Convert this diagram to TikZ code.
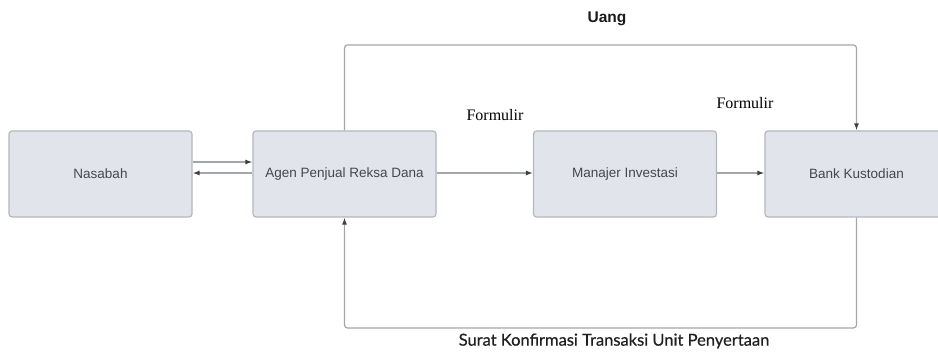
\documentclass[tikz,border=0pt]{standalone}
\usepackage{fontspec}
\setmainfont{Liberation Sans}
\newfontfamily\formfont{Liberation Serif}
\newfontfamily\notefont{Lato}[FakeBold=0.5]
\usepackage{tikz}
\usetikzlibrary{arrows.meta}

\definecolor{boxfill}{HTML}{E1E4EA}
\definecolor{boxline}{HTML}{B4B7BC}
\definecolor{wire}{HTML}{A3A6AA}
\definecolor{boxtext}{HTML}{45474B}

\tikzset{
    party/.style={draw=boxline, fill=boxfill, line width=1.2pt, rounded corners=3pt,
        minimum width=183pt, minimum height=86pt, text=boxtext,
        font=\fontsize{13.5}{16}\selectfont},
    flow/.style={draw=wire, line width=1.2pt, rounded corners=3pt,
        -{Latex[length=7pt, width=5pt, color=black!75]}},
    formlabel/.style={font=\formfont\fontsize{16}{18}\selectfont},
}

\begin{document}
\begin{tikzpicture}[x=1pt, y=-1pt]
    \useasboundingbox (0,0) rectangle (938,352);

    % Parties
    \node[party] (nasabah) at (100.5,174) {Nasabah};
    \node[party] (agen) at (344.5,174) {Agen Penjual Reksa Dana};
    \node[party] (manajer) at (625,174) {Manajer Investasi};
    \node[party] (bank) at (856.5,174) {Bank Kustodian};

    % Formulir flow
    \draw[flow] ([yshift=12pt]nasabah.east) -- ([yshift=12pt]agen.west);
    \draw[flow] ([yshift=1pt]agen.west) -- ([yshift=1pt]nasabah.east);
    \draw[flow] ([yshift=1pt]agen.east) -- ([yshift=1pt]manajer.west);
    \draw[flow] ([yshift=1pt]manajer.east) -- ([yshift=1pt]bank.west);
    \node[formlabel] (form1) at (495,115) {Formulir};
    \node[formlabel] (form2) at (745,103) {Formulir};

    % Uang
    \coordinate (uangline) at (600,45);
    \draw[flow] (agen.north) |- (uangline) -| (bank.north);
    \node[font=\bfseries\fontsize{15.5}{18}\selectfont, text=black!90] (uang) at (607,19) {Uang};

    % Surat konfirmasi
    \coordinate (suratline) at (600,328);
    \draw[flow] (bank.south) |- (suratline) -| (agen.south);
    \node[font=\notefont\fontsize{16.5}{19}\selectfont, text=black!88] (surat) at (614,341)
        {Surat Konfirmasi Transaksi Unit Penyertaan};
\end{tikzpicture}
\end{document}
